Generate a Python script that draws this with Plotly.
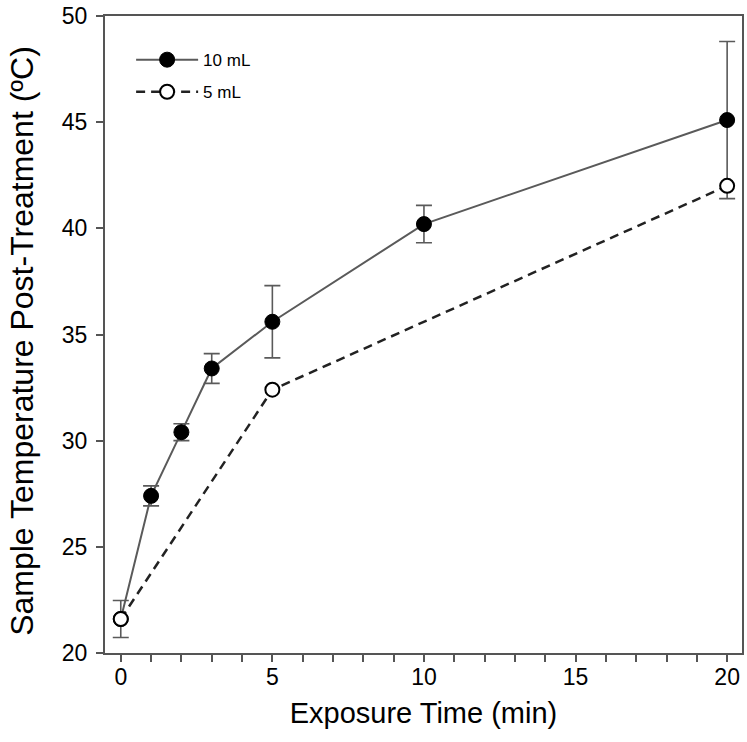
import plotly.graph_objects as go

# Data
time_10 = [0, 1, 2, 3, 5, 10, 20]
temp_10 = [21.6, 27.4, 30.4, 33.4, 35.6, 40.2, 45.1]
err_10 = [0.87, 0.47, 0.4, 0.7, 1.7, 0.88, 3.7]

time_5 = [0, 5, 20]
temp_5 = [21.6, 32.4, 42.0]

x_ticks = [0, 5, 10, 15, 20]
y_ticks = [20, 25, 30, 35, 40, 45, 50]

FONT = "Liberation Sans, Arial, Helvetica, sans-serif"
AXC = "#555555"

fig = go.Figure()
fig.add_trace(go.Scatter(
    x=time_10, y=temp_10, name="10 mL", mode="lines+markers",
    line=dict(color="#5a5a5a", width=2),
    marker=dict(symbol="circle", size=15, color="black", line=dict(color="black", width=1)),
    error_y=dict(type="data", array=err_10, visible=True, color="#5a5a5a", thickness=1.6, width=8),
    legendgroup="a",
))
fig.add_trace(go.Scatter(
    x=time_5, y=temp_5, name="5 mL", mode="lines+markers",
    line=dict(color="#222222", width=2.5, dash="9px,6px"),
    marker=dict(symbol="circle", size=14, color="white", line=dict(color="black", width=2)),
    legendgroup="b",
))

fig.update_layout(
    width=747, height=742,
    margin=dict(l=105, r=5, t=16, b=89, autoexpand=False),
    paper_bgcolor="white", plot_bgcolor="white",
    font=dict(family=FONT, color="black"),
    showlegend=True,
    legend=dict(x=0.041, y=0.959, xanchor="left", yanchor="top",
                font=dict(size=17, family=FONT), bgcolor="rgba(0,0,0,0)",
                tracegroupgap=7, traceorder="grouped", itemwidth=62),
    xaxis=dict(
        range=[-0.52, 20.49], tickvals=x_ticks, ticktext=[str(v) for v in x_ticks],
        ticks="outside", ticklen=7, tickwidth=1.5, tickcolor=AXC,
        minor=dict(dtick=1, ticks="outside", ticklen=7, tickwidth=1.5, tickcolor=AXC),
        showline=True, linecolor=AXC, linewidth=2, mirror=True,
        showgrid=False, zeroline=False, ticklabeloverflow="allow", ticklabelstandoff=-5,
        tickfont=dict(size=23, family=FONT),
        title=dict(text="Exposure Time (min)", font=dict(size=29, family=FONT), standoff=14),
    ),
    yaxis=dict(
        range=[20, 50], tickvals=y_ticks, ticktext=[str(v) for v in y_ticks],
        ticks="outside", ticklen=7, tickwidth=1.5, tickcolor=AXC,
        showline=True, linecolor=AXC, linewidth=2, mirror=True,
        showgrid=False, zeroline=False, ticklabeloverflow="allow", ticklabelstandoff=4,
        tickfont=dict(size=23, family=FONT),
    ),
    annotations=[dict(
        text="Sample Temperature Post-Treatment (ºC)", textangle=-90,
        xref="paper", yref="paper", x=0, y=0.49, xanchor="center", yanchor="middle",
        xshift=-83, showarrow=False, font=dict(size=32, family=FONT, color="black"),
    )],
)

fig.write_html("out.html", config={"displayModeBar": False},
               post_script="document.body.style.margin='0';")
